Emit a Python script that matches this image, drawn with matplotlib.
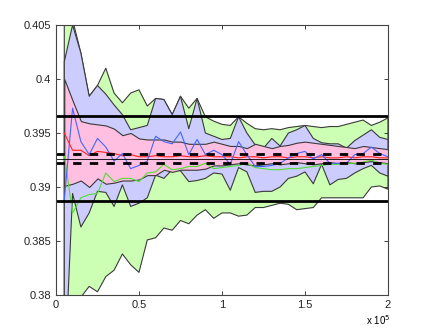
import matplotlib
matplotlib.use('Agg')
import matplotlib.pyplot as plt
import numpy as np

plt.rcParams['font.family'] = ['Liberation Sans', 'DejaVu Sans']

# sample sizes (x axis), 5000 .. 200000
n = np.arange(5000, 200001, 5000)

green_hi = [0.4140, 0.4055, 0.4024, 0.3984, 0.3994, 0.4010, 0.3987, 0.3978, 0.3987, 0.3990,
            0.3975, 0.3982, 0.3981, 0.3967, 0.3984, 0.3973, 0.3982, 0.3965, 0.3961, 0.3958,
            0.3957, 0.3965, 0.3959, 0.3954, 0.3953, 0.3954, 0.3953, 0.3955, 0.3956, 0.3957,
            0.3956, 0.3955, 0.3956, 0.3956, 0.3958, 0.3960, 0.3962, 0.3957, 0.3960, 0.3964]
green_lo = [0.3620, 0.3720, 0.3798, 0.3808, 0.3803, 0.3817, 0.3823, 0.3838, 0.3828, 0.3821,
            0.3851, 0.3853, 0.3862, 0.3860, 0.3869, 0.3866, 0.3874, 0.3879, 0.3871, 0.3876,
            0.3876, 0.3873, 0.3874, 0.3881, 0.3881, 0.3883, 0.3885, 0.3884, 0.3879, 0.3880,
            0.3881, 0.3890, 0.3890, 0.3890, 0.3890, 0.3890, 0.3890, 0.3900, 0.3901, 0.3898]
blue_hi = [0.4016, 0.4050, 0.4024, 0.3984, 0.3994, 0.3986, 0.3976, 0.3967, 0.3953, 0.3955,
           0.3957, 0.3982, 0.3981, 0.3967, 0.3984, 0.3954, 0.3982, 0.3950, 0.3947, 0.3944,
           0.3945, 0.3965, 0.3950, 0.3939, 0.3936, 0.3945, 0.3938, 0.3950, 0.3953, 0.3957,
           0.3945, 0.3941, 0.3940, 0.3940, 0.3936, 0.3943, 0.3948, 0.3953, 0.3946, 0.3944]
blue_lo = [0.3720, 0.3894, 0.3863, 0.3876, 0.3896, 0.3895, 0.3882, 0.3902, 0.3882, 0.3885,
           0.3890, 0.3911, 0.3908, 0.3916, 0.3915, 0.3905, 0.3906, 0.3908, 0.3913, 0.3912,
           0.3897, 0.3918, 0.3914, 0.3895, 0.3896, 0.3896, 0.3900, 0.3908, 0.3910, 0.3914,
           0.3903, 0.3921, 0.3902, 0.3907, 0.3908, 0.3913, 0.3917, 0.3920, 0.3913, 0.3910]
pink_hi = [0.4000, 0.3980, 0.3961, 0.3959, 0.3958, 0.3957, 0.3954, 0.3948, 0.3950, 0.3945,
           0.3944, 0.3944, 0.3944, 0.3942, 0.3942, 0.3940, 0.3940, 0.3940, 0.3942, 0.3940,
           0.3938, 0.3938, 0.3936, 0.3940, 0.3938, 0.3936, 0.3938, 0.3939, 0.3941, 0.3942,
           0.3941, 0.3940, 0.3939, 0.3938, 0.3937, 0.3936, 0.3938, 0.3937, 0.3936, 0.3935]
pink_lo = [0.3901, 0.3903, 0.3906, 0.3900, 0.3908, 0.3903, 0.3904, 0.3906, 0.3906, 0.3907,
           0.3911, 0.3911, 0.3916, 0.3914, 0.3916, 0.3916, 0.3916, 0.3917, 0.3920, 0.3920,
           0.3921, 0.3922, 0.3921, 0.3920, 0.3921, 0.3922, 0.3921, 0.3922, 0.3923, 0.3922,
           0.3921, 0.3922, 0.3923, 0.3922, 0.3923, 0.3922, 0.3923, 0.3924, 0.3923, 0.3922]

est_blue = [0.3888, 0.3973, 0.3942, 0.3930, 0.3945, 0.3937, 0.3924, 0.3931, 0.3917, 0.3920,
            0.3924, 0.3947, 0.3942, 0.3940, 0.3951, 0.3930, 0.3944, 0.3930, 0.3934, 0.3930,
            0.3921, 0.3942, 0.3930, 0.3919, 0.3919, 0.3920, 0.3922, 0.3927, 0.3931, 0.3933,
            0.3926, 0.3930, 0.3922, 0.3922, 0.3922, 0.3930, 0.3931, 0.3937, 0.3931, 0.3928]
est_red = [0.3950, 0.3934, 0.3934, 0.3929, 0.3933, 0.3932, 0.3931, 0.3929, 0.3930, 0.3928,
           0.3928, 0.3929, 0.3928, 0.3928, 0.3929, 0.3928, 0.3928, 0.3929, 0.3928, 0.3928,
           0.3928, 0.3927, 0.3928, 0.3928, 0.3927, 0.3928, 0.3928, 0.3927, 0.3928, 0.3928,
           0.3927, 0.3928, 0.3927, 0.3927, 0.3928, 0.3927, 0.3928, 0.3928, 0.3927, 0.3927]
est_green = [0.3930, 0.3876, 0.3890, 0.3893, 0.3894, 0.3913, 0.3905, 0.3908, 0.3908, 0.3905,
             0.3913, 0.3914, 0.3921, 0.3916, 0.3917, 0.3919, 0.3919, 0.3922, 0.3917, 0.3918,
             0.3919, 0.3920, 0.3922, 0.3918, 0.3917, 0.3916, 0.3916, 0.3917, 0.3917, 0.3918,
             0.3919, 0.3920, 0.3921, 0.3921, 0.3922, 0.3922, 0.3923, 0.3925, 0.3922, 0.3921]

bound_solid = [0.3966, 0.3887]
bound_dashed = [0.3931, 0.3922]
centre = 0.3926

fig = plt.figure(figsize=(4.29, 3.32), dpi=100)
ax = fig.add_axes([0.1305, 0.1114, 0.7739, 0.8133])

edge = '#3a3a3a'
ax.fill_between(n, green_lo, green_hi, facecolor='#ccffb3', edgecolor=edge, linewidth=0.8)
ax.fill_between(n, blue_lo, blue_hi, facecolor='#ccccff', edgecolor=edge, linewidth=0.8)
ax.fill_between(n, pink_lo, pink_hi, facecolor='#ffbfe0', edgecolor=edge, linewidth=0.8)

ax.plot(n, est_green, color='#55dd33', linewidth=0.8)
ax.plot(n, est_red, color='#ff2222', linewidth=0.8)
ax.plot(n, est_blue, color='#4466ff', linewidth=0.8)

for y in bound_solid:
    ax.axhline(y, color='black', linewidth=2.0)
for y in bound_dashed:
    ax.axhline(y, color='black', linewidth=2.0, linestyle=(0, (3, 3)))
ax.axhline(centre, color='black', linewidth=0.6)

ax.set_xlim(0, 200000)
ax.set_ylim(0.38, 0.405)
ax.set_xticks([0, 50000, 100000, 150000, 200000])
ax.set_xticklabels(['0', '0.5', '1', '1.5', '2'])
ax.set_yticks([0.38, 0.385, 0.39, 0.395, 0.4, 0.405])
ax.set_yticklabels(['0.38', '0.385', '0.39', '0.395', '0.4', '0.405'])
ax.tick_params(direction='in', top=True, right=True, labelsize=8, length=3, width=0.6, colors='#222222')
for s in ax.spines.values():
    s.set_linewidth(0.8)
    s.set_color('#444444')

fig.text(0.853, 0.022, r'x 10$^5$', fontsize=7)

plt.savefig('out.png', dpi=100)
